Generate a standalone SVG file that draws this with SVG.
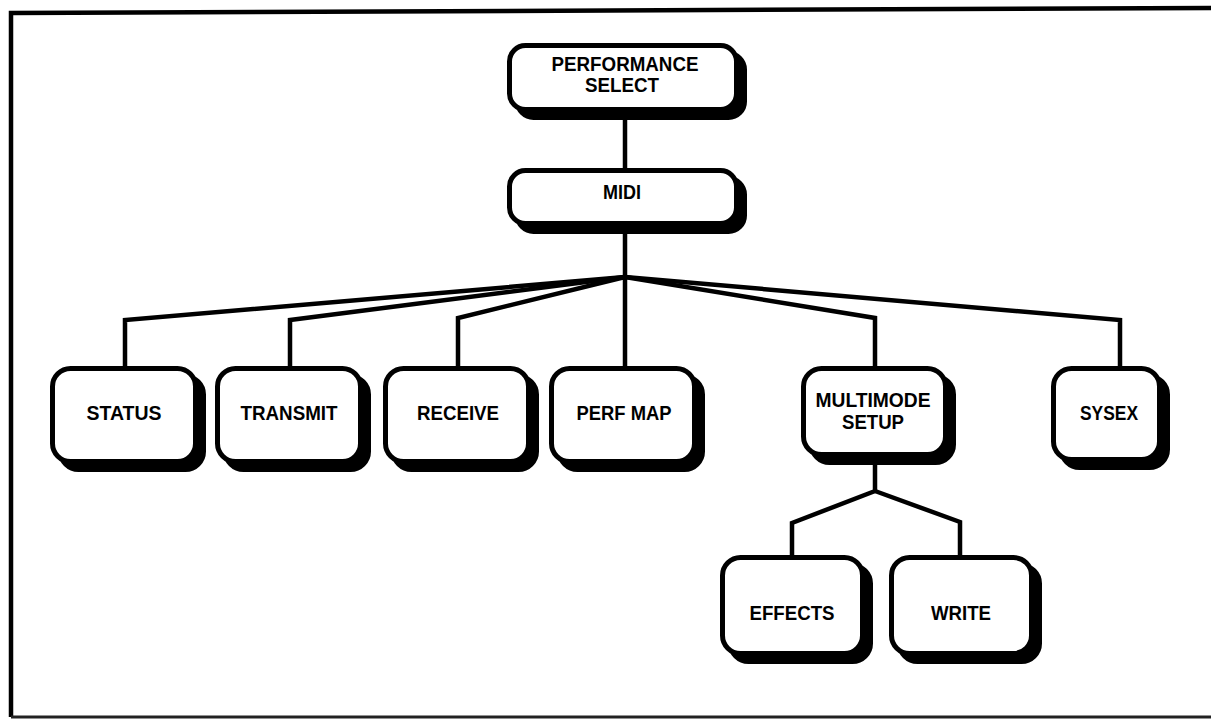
<svg xmlns="http://www.w3.org/2000/svg" width="1211" height="719" viewBox="0 0 1211 719">
<style>
.sh{fill:#000;stroke:#000;stroke-width:5}
.bx{fill:#fff;stroke:#000;stroke-width:5}
.t{font-family:"Liberation Sans",Arial,sans-serif;font-weight:bold;font-size:21px;fill:#000;text-anchor:middle}
.c{fill:none;stroke:#000;stroke-width:4.5;stroke-linejoin:miter}
</style>
<rect width="1211" height="719" fill="#fff"/>
<g id="frame" fill="none" stroke="#000">
<polyline points="11,717 11,13 1211,8" stroke-width="4.5"/>
<line x1="11" y1="717" x2="1211" y2="717" stroke-width="3" stroke="#222"/>
</g>
<g id="connectors">
<path class="c" d="M625,120 V168"/>
<path class="c" d="M625,234 V366"/>
<path class="c" d="M625,277 L125,320 V366"/>
<path class="c" d="M625,277 L290,320 V366"/>
<path class="c" d="M625,277 L458,318 V366"/>
<path class="c" d="M625,277 L875,318 V366"/>
<path class="c" d="M625,277 L1120,320 V366"/>
<path class="c" d="M875,465 V491 L792,523 V555"/>
<path class="c" d="M875,491 L960,522 V555"/>
</g>
<g id="performance-select">
<rect class="sh" x="517.5" y="53.5" width="227" height="64" rx="16"/>
<rect class="bx" x="509.5" y="45.5" width="227" height="64" rx="16"/>
<text class="t" x="625" y="71" textLength="147" lengthAdjust="spacingAndGlyphs">PERFORMANCE</text>
<text class="t" x="622" y="92" textLength="74" lengthAdjust="spacingAndGlyphs">SELECT</text>
</g>
<g id="midi">
<rect class="sh" x="517.5" y="178.5" width="227" height="53" rx="16"/>
<rect class="bx" x="509.5" y="170.5" width="227" height="53" rx="16"/>
<text class="t" x="622" y="199" textLength="38" lengthAdjust="spacingAndGlyphs">MIDI</text>
</g>
<g id="status">
<rect class="sh" x="60.5" y="376.5" width="143" height="93" rx="18"/>
<rect class="bx" x="52.5" y="368.5" width="143" height="93" rx="18"/>
<text class="t" x="124" y="420" textLength="75" lengthAdjust="spacingAndGlyphs">STATUS</text>
</g>
<g id="transmit">
<rect class="sh" x="225.5" y="376.5" width="143" height="93" rx="18"/>
<rect class="bx" x="217.5" y="368.5" width="143" height="93" rx="18"/>
<text class="t" x="289" y="420" textLength="97" lengthAdjust="spacingAndGlyphs">TRANSMIT</text>
</g>
<g id="receive">
<rect class="sh" x="393.5" y="376.5" width="143" height="93" rx="18"/>
<rect class="bx" x="385.5" y="368.5" width="143" height="93" rx="18"/>
<text class="t" x="458" y="420" textLength="82" lengthAdjust="spacingAndGlyphs">RECEIVE</text>
</g>
<g id="perf-map">
<rect class="sh" x="559.5" y="376.5" width="143" height="93" rx="18"/>
<rect class="bx" x="551.5" y="368.5" width="143" height="93" rx="18"/>
<text class="t" x="624" y="420" textLength="95" lengthAdjust="spacingAndGlyphs">PERF MAP</text>
</g>
<g id="multimode-setup">
<rect class="sh" x="811.5" y="376.5" width="142" height="86" rx="18"/>
<rect class="bx" x="803.5" y="368.5" width="142" height="86" rx="18"/>
<text class="t" x="873" y="407" textLength="115" lengthAdjust="spacingAndGlyphs">MULTIMODE</text>
<text class="t" x="873" y="429" textLength="62" lengthAdjust="spacingAndGlyphs">SETUP</text>
</g>
<g id="sysex">
<rect class="sh" x="1061.5" y="376.5" width="106" height="91" rx="18"/>
<rect class="bx" x="1053.5" y="368.5" width="106" height="91" rx="18"/>
<text class="t" x="1109" y="420" textLength="58" lengthAdjust="spacingAndGlyphs">SYSEX</text>
</g>
<g id="effects">
<rect class="sh" x="730.5" y="565.5" width="140" height="96" rx="18"/>
<rect class="bx" x="722.5" y="557.5" width="140" height="96" rx="18"/>
<text class="t" x="792" y="620" textLength="85" lengthAdjust="spacingAndGlyphs">EFFECTS</text>
</g>
<g id="write">
<rect class="sh" x="899.5" y="565.5" width="140" height="96" rx="18"/>
<rect class="bx" x="891.5" y="557.5" width="140" height="96" rx="18"/>
<text class="t" x="961" y="620" textLength="60" lengthAdjust="spacingAndGlyphs">WRITE</text>
</g>
</svg>
